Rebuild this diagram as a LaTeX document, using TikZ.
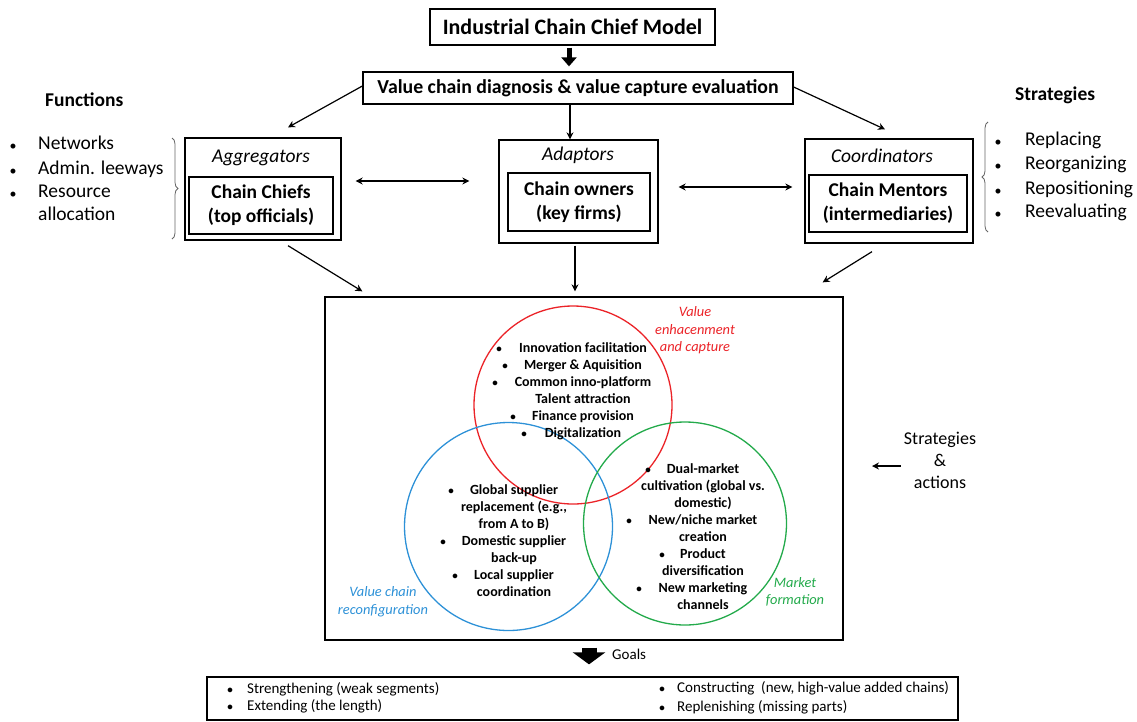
\documentclass[tikz,border=0pt]{standalone}
\usepackage{fontspec}
\setmainfont{Carlito}
\usetikzlibrary{arrows.meta,decorations.pathreplacing,calc}
\definecolor{vred}{RGB}{235,35,40}
\definecolor{vblue}{RGB}{45,145,215}
\definecolor{vgreen}{RGB}{35,170,75}
\newcommand{\fs}[2]{\fontsize{#1}{#2}\selectfont}
\begin{document}
\begin{tikzpicture}[x=1pt,y=-1pt,
  box/.style={draw, line width=1.3pt, inner sep=0pt},
  arr/.style={-{Stealth[length=7pt,width=7pt]}, line width=1.2pt},
  darr/.style={{Stealth[length=7pt,width=7pt]}-{Stealth[length=7pt,width=7pt]}, line width=1.2pt},
  big/.style={font=\fs{19.5}{24}},
  bigb/.style={font=\bfseries\fs{19.5}{24}},
  bul/.style={inner sep=0pt, font=\fs{14}{16}},
  sbul/.style={inner sep=0pt, font=\bfseries\fs{11}{13}},
  line/.style={inner sep=0pt, text height=0.68em, text depth=0.2em},
  vt/.style={line, font=\bfseries\fs{14}{17}},
  bt/.style={line, font=\fs{15}{17}},
  brc/.style={draw=black!60, line width=0.8pt, decorate, decoration={brace, amplitude=6pt}},
  lbl/.style={align=center, inner sep=0pt, font=\itshape\fs{14.4}{17.5}}
]
\useasboundingbox (0,0) rectangle (1137,721);

% top boxes
\node[box, minimum width=285pt, minimum height=36pt, font=\bfseries\fs{22}{24}] (title) at (572.5,27) {Industrial Chain Chief Model};
\node[box, minimum width=430pt, minimum height=32pt, font=\bfseries\fs{19.8}{22}] (value) at (578,88) {Value chain diagnosis \& value capture evaluation};
\draw[line width=5pt, -{Triangle[length=9pt,width=15pt]}, shorten <=2pt, shorten >=5pt] ([xshift=-3.5pt]title.south) -- ([xshift=-3.5pt]title.south |- value.north);

% side headings
\node[bigb, anchor=west, inner sep=0pt] (fun) at (45,100) {Functions};
\node[bigb, anchor=west, inner sep=0pt] (str) at (1015,95) {Strategies};

% functions list
\node[bul] (fb1) at (13,147) {•};
\node[big, line, anchor=west] (f1) at (38,147) {Networks};
\node[bul] (fb2) at (13,172) {•};
\node[big, line, anchor=west] (f2) at (38,172) {Admin. leeways};
\node[bul] (fb3) at (13,195) {•};
\node[big, line, anchor=west] (f3) at (38,195) {Resource};
\node[big, line, anchor=west] (f4) at (38,218) {allocation};

% strategies list
\node[bul] (sb1) at (998,143) {•};
\node[big, line, anchor=west] (s1) at (1025,143) {Replacing};
\node[bul] (sb2) at (998,167) {•};
\node[big, line, anchor=west] (s2) at (1025,167) {Reorganizing};
\node[bul] (sb3) at (998,192) {•};
\node[big, line, anchor=west] (s3) at (1025,192) {Repositioning};
\node[bul] (sb4) at (998,215) {•};
\node[big, line, anchor=west] (s4) at (1025,215) {Reevaluating};

% braces
\draw[brc] (172,138) -- (172,239);
\draw[brc] (988,232) -- (988,122);

% actor boxes
\node[box, minimum width=156pt, minimum height=102pt] (agg) at (263,189) {};
\node[box, minimum width=144pt, minimum height=57pt, align=center, bigb] (aggin) at (261,205.5) {Chain Chiefs\\(top officials)};
\node[line, font=\itshape\fs{19.5}{24}] (aggl) at (261,160) {Aggregators};

\node[box, minimum width=159pt, minimum height=103pt] (ada) at (578.5,191.5) {};
\node[box, minimum width=142pt, minimum height=58pt, align=center, bigb] (adain) at (579,202) {Chain owners\\(key firms)};
\node[line, font=\itshape\fs{19.5}{24}] (adal) at (578,158) {Adaptors};

\node[box, minimum width=168pt, minimum height=104pt] (coo) at (889,191) {};
\node[box, minimum width=158pt, minimum height=57pt, align=center, bigb] (cooin) at (888,203.5) {Chain Mentors\\(intermediaries)};
\node[line, font=\itshape\fs{19.5}{24}] (cool) at (882,160) {Coordinators};

% arrows from value box
\draw[arr] ([yshift=2pt]value.west) -- ($(agg.north)+(25,-10)$);
\draw[arr] ([yshift=1pt]value.east) -- ($(coo.north)+(-4,-9)$);
\draw[arr] ([xshift=-8pt]value.south) -- ([xshift=-8pt]value.south |- ada.north);

% double arrows
\draw[darr, shorten <=14pt, shorten >=29pt] (agg.east |- 0,181) -- (ada.west |- 0,181);
\draw[darr, shorten <=20pt, shorten >=12pt] (ada.east |- 0,187) -- (coo.west |- 0,187);

% big box
\node[box, minimum width=518pt, minimum height=343pt] (bigbox) at (584,468.5) {};
\draw[arr] ($(agg.south)+(25,5)$) -- ($(bigbox.north west)+(38,-5)$);
\draw[arr] ([xshift=-3.5pt,yshift=-2pt]ada.south) -- ([xshift=-3.5pt,yshift=5pt]ada.south |- bigbox.north);
\draw[arr] ($(coo.south)+(-17,8)$) -- ($(bigbox.north east)+(-21,-14)$);

% venn circles
\node[circle, draw=vred, line width=1.3pt, minimum size=198pt, inner sep=0pt] (cred) at (573,405) {};
\node[circle, draw=vblue, line width=1.3pt, minimum size=208pt, inner sep=0pt] (cblue) at (508.5,526.5) {};
\node[circle, draw=vgreen, line width=1.3pt, minimum size=203pt, inner sep=0pt] (cgreen) at (685,523.5) {};

% red text
\node[sbul] (rb1) at (499,350) {•}; \node[vt] (r1) at (583,350) {Innovation facilitation};
\node[sbul] (rb2) at (505,367) {•}; \node[vt] (r2) at (583,367) {Merger \& Aquisition};
\node[sbul] (rb3) at (495,384) {•}; \node[vt] (r3) at (583,384) {Common inno-platform};
\node[vt] (r4) at (583,401) {Talent attraction};
\node[sbul] (rb5) at (513,418) {•}; \node[vt] (r5) at (583,418) {Finance provision};
\node[sbul] (rb6) at (524,435) {•}; \node[vt] (r6) at (583,435) {Digitalization};

% blue text
\node[sbul] (bb1) at (451,492) {•}; \node[vt] (b1) at (514,492) {Global supplier};
\node[vt] (b2) at (514,509) {replacement (e.g.,};
\node[vt] (b3) at (514,526) {from A to B)};
\node[sbul] (bb4) at (443,543) {•}; \node[vt] (b4) at (514,543) {Domestic supplier};
\node[vt] (b5) at (514,560) {back-up};
\node[sbul] (bb6) at (455,577) {•}; \node[vt] (b6) at (514,577) {Local supplier};
\node[vt] (b7) at (514,594) {coordination};

% green text
\node[sbul] (gb1) at (648,471) {•}; \node[vt] (g1) at (703,471) {Dual-market};
\node[vt] (g2) at (703,488) {cultivation (global vs.};
\node[vt] (g3) at (703,505) {domestic)};
\node[sbul] (gb4) at (629,522) {•}; \node[vt] (g4) at (703,522) {New/niche market};
\node[vt] (g5) at (703,539) {creation};
\node[sbul] (gb6) at (662,556) {•}; \node[vt] (g6) at (703,556) {Product};
\node[vt] (g7) at (703,573) {diversification};
\node[sbul] (gb8) at (639,590) {•}; \node[vt] (g8) at (703,590) {New marketing};
\node[vt] (g9) at (703,607) {channels};

% circle labels
\node[lbl, text=vred] (lred) at (695,330.5) {Value\\enhacenment\\and capture};
\node[lbl, text=vblue] (lblue) at (383,601.5) {Value chain\\reconfiguration};
\node[lbl, text=vgreen] (lgreen) at (795,592) {Market\\formation};

% strategies & actions
\node[align=center, inner sep=0pt, font=\fs{18}{22}] (sa) at (940,460) {Strategies\\\&\\actions};
\coordinate (sat) at (872,466);
\draw[arr] (sa.west |- sat) ++(-3,0) -- (sat);

% goals
\node[box, minimum width=751pt, minimum height=43pt] (goals) at (582.5,698.5) {};
\draw[line width=15pt, -{Triangle[length=12pt,width=32pt]}, shorten <=7pt, shorten >=12pt] ([xshift=5pt]bigbox.south) -- ([xshift=5pt]bigbox.south |- goals.north);
\node[bt, anchor=west] (gl) at (612,657) {Goals};
\node[sbul] (gbl1) at (230,691) {•}; \node[bt, anchor=west] (gt1) at (247,691) {Strengthening (weak segments)};
\node[sbul] (gbl2) at (230,708) {•}; \node[bt, anchor=west] (gt2) at (247,708) {Extending (the length)};
\node[sbul] (gbl3) at (662,690) {•}; \node[bt, anchor=west] (gt3) at (677,690) {Constructing\ \ (new, high-value added chains)};
\node[sbul] (gbl4) at (662,709) {•}; \node[bt, anchor=west] (gt4) at (677,709) {Replenishing (missing parts)};
\end{tikzpicture}
\end{document}
